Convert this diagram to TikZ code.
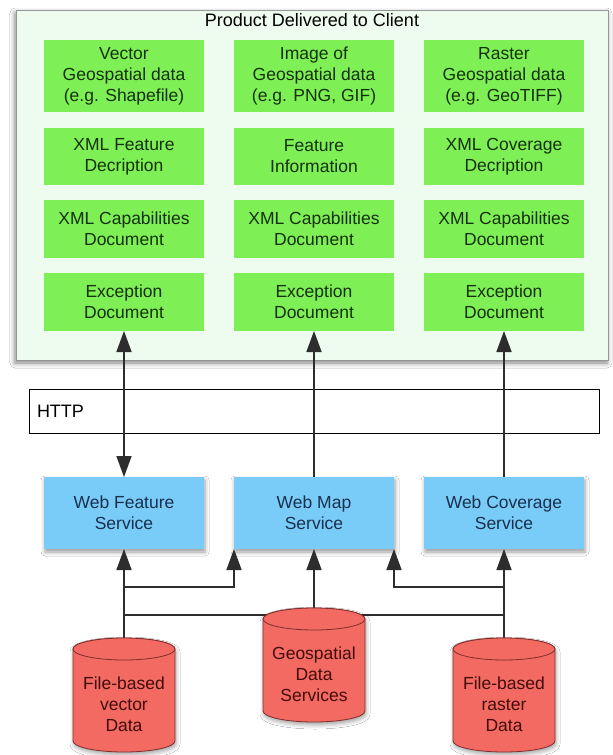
\documentclass[tikz,border=0pt]{standalone}
\usepackage{fontspec}
\setmainfont{Liberation Sans}
\usetikzlibrary{arrows.meta,shadows.blur}

\definecolor{mint}{RGB}{237,252,239}
\definecolor{frame}{RGB}{150,150,150}
\definecolor{leaf}{RGB}{126,240,86}
\definecolor{leaftext}{RGB}{22,48,12}
\definecolor{sky}{RGB}{122,204,248}
\definecolor{skytext}{RGB}{24,48,78}
\definecolor{coral}{RGB}{242,106,98}
\definecolor{coralline}{RGB}{130,45,42}
\definecolor{coraltext}{RGB}{66,12,10}
\definecolor{wirecol}{RGB}{45,45,45}

% a database drum: centre x, y of top cap centre, y of bottom cap centre
\newcommand\drumat[3]{%
  \path[drum, blur shadow={shadow xshift=1pt, shadow yshift=-3pt, shadow blur radius=4pt, shadow opacity=35}]
    (#1-51,#2) -- (#1-51,#3)
    arc[start angle=180, end angle=0, x radius=51, y radius=11]
    -- (#1+51,#2)
    arc[start angle=0, end angle=-180, x radius=51, y radius=11] -- cycle;
  \draw[drum] (#1,#2) ellipse[x radius=51, y radius=11];
}

\begin{document}
\begin{tikzpicture}[x=1pt, y=-1pt,
  every node/.style={inner sep=0pt, outer sep=0pt},
  boxtext/.style={font=\fontsize{17.5}{21}\selectfont, align=center},
  product/.style={boxtext, fill=leaf, text=leaftext, minimum width=160pt},
  service/.style={boxtext, fill=sky, text=skytext, minimum width=160pt, minimum height=72pt,
    blur shadow={shadow xshift=1pt, shadow yshift=-3pt, shadow blur radius=4pt, shadow opacity=40}},
  store/.style={boxtext, text=coraltext, minimum width=102pt},
  drum/.style={fill=coral, draw=coralline, line width=0.8pt},
  wire/.style={draw=wirecol, line width=1.6pt},
  tip/.style={-{Triangle[length=21pt, width=15pt]}},
  twotip/.style={{Triangle[length=21pt, width=15pt]}-{Triangle[length=21pt, width=15pt]}},
]
\useasboundingbox (0,0) rectangle (613,755);
\fill[white] (0,0) rectangle (613,755);

% products delivered to the client
\node[draw=frame, fill=mint, line width=0.8pt, minimum width=592pt, minimum height=350pt,
  blur shadow={shadow xshift=-1pt, shadow yshift=-3pt, shadow blur radius=5pt, shadow opacity=50}]
  (client) at (312,185) {};
\node[font=\fontsize{18}{21}\selectfont] (title) at (312,20) {Product Delivered to Client};

\node[product, minimum height=72pt] (vec) at (124,76) {Vector\\Geospatial data\\(e.g. Shapefile)};
\node[product, minimum height=72pt] (img) at (314,76) {Image of\\Geospatial data\\(e.g. PNG, GIF)};
\node[product, minimum height=72pt] (ras) at (504,76) {Raster\\Geospatial data\\(e.g. GeoTIFF)};

\node[product, minimum height=57pt] (featdesc) at (124,156.5) {XML Feature\\Decription};
\node[product, minimum height=57pt] (featinfo) at (314,156.5) {Feature\\Information};
\node[product, minimum height=57pt] (covdesc) at (504,156.5) {XML Coverage\\Decription};

\node[product, minimum height=58pt] (capa) at (124,229) {XML Capabilities\\Document};
\node[product, minimum height=58pt] (capb) at (314,229) {XML Capabilities\\Document};
\node[product, minimum height=58pt] (capc) at (504,229) {XML Capabilities\\Document};

\node[product, minimum height=58pt] (exca) at (124,302) {Exception\\Document};
\node[product, minimum height=58pt] (excb) at (314,302) {Exception\\Document};
\node[product, minimum height=58pt] (excc) at (504,302) {Exception\\Document};

% transport layer
\node[draw=black, fill=white, line width=0.8pt, minimum width=570pt, minimum height=44pt] (http) at (314,411) {};
\node[anchor=west, font=\fontsize{18}{21}\selectfont] (httptext) at ([xshift=8pt]http.west) {HTTP};

% OGC services
\node[service] (wfs) at (124,513) {Web Feature\\Service};
\node[service] (wms) at (314,513) {Web Map\\Service};
\node[service] (wcs) at (504,513) {Web Coverage\\Service};

% data stores (anchors for the wires)
\node[store, minimum height=114pt] (vecdb) at (124,695) {};
\node[store, minimum height=114pt] (geodb) at (314,665) {};
\node[store, minimum height=114pt] (rasdb) at (504,695) {};

\coordinate (vecup) at (124,587);
\coordinate (rasup) at (504,587);
\coordinate (veclow) at (124,615);
\coordinate (raslow) at (504,615);

% wires between services and products
\draw[wire, twotip] (wfs.north) -- (exca.south);
\draw[wire, tip] (wms.north) -- (excb.south);
\draw[wire, tip] (wcs.north) -- (excc.south);

% wires between stores and services
\draw[wire, tip] (vecdb.north) -- (wfs.south);
\draw[wire, tip] (vecup) -| (wms.south west);
\draw[wire, tip] (rasdb.north) -- (wcs.south);
\draw[wire, tip] (rasup) -| (wms.south east);
\draw[wire, tip] (geodb.north) -- (wms.south);
\draw[wire] (veclow) -- (veclow -| geodb);
\draw[wire] (raslow) -- (raslow -| geodb);

% drums drawn over the wire ends
\drumat{124}{649}{741}
\drumat{314}{619}{711}
\drumat{504}{649}{741}

\node[store] (vectext) at (124,704) {File-based\\vector\\Data};
\node[store] (geotext) at (314,674) {Geospatial\\Data\\Services};
\node[store] (rastext) at (504,704) {File-based\\raster\\Data};
\end{tikzpicture}
\end{document}
